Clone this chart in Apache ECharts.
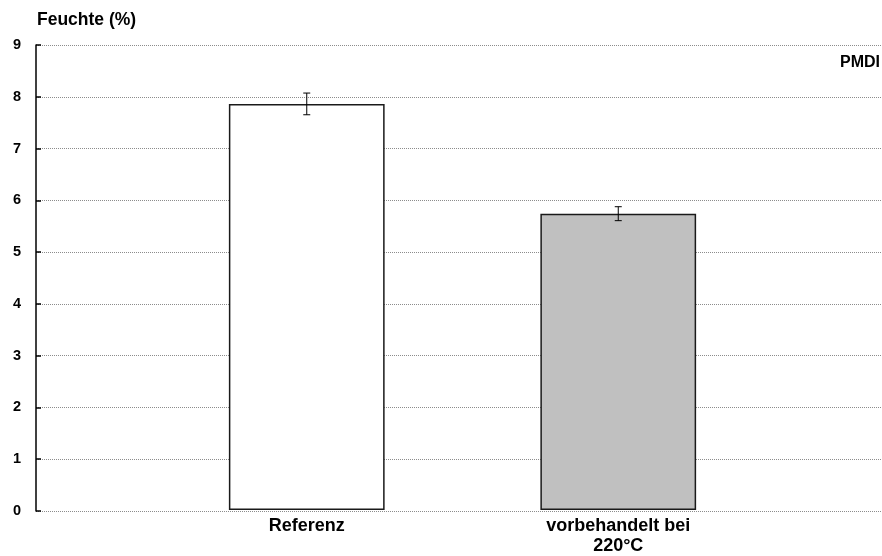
<!DOCTYPE html>
<html>
<head>
<meta charset="utf-8">
<script src="https://cdn.jsdelivr.net/npm/echarts@6/dist/echarts.min.js"></script>
<style>
  html, body { margin: 0; padding: 0; background: #fff; }
  #chart { width: 882px; height: 556px; }
</style>
</head>
<body>
<div id="chart"></div>
<script>
// Feuchte der Proben (PMDI), Mittelwert mit Standardabweichung
var categories = ['Referenz', 'vorbehandelt bei\n220°C'];
var feuchte = [7.86, 5.735];
var abweichung = [0.21, 0.135];
var barColors = ['#ffffff', '#c0c0c0'];
var yTicks = [0, 1, 2, 3, 4, 5, 6, 7, 8, 9];

var FONT = '"Liberation Sans", Arial, sans-serif';

var fehlerDaten = categories.map(function (c, i) {
  return [i, feuchte[i] - abweichung[i], feuchte[i] + abweichung[i]];
});

var chart = echarts.init(document.getElementById('chart'), null, { renderer: 'canvas' });

chart.setOption({
  animation: false,
  backgroundColor: '#ffffff',
  graphic: [
    {
      type: 'text', left: 37, top: 11,
      style: { text: 'Feuchte (%)', font: 'bold 17.5px ' + FONT, fill: '#000' }
    },
    {
      type: 'text', right: 2, top: 55,
      style: { text: 'PMDI', font: 'bold 16px ' + FONT, fill: '#000' }
    }
  ],
  grid: [
    { left: 36, right: 0, top: 45, bottom: 45 },
    { left: 151, width: 623, top: 45, bottom: 45 }
  ],
  xAxis: [
    {
      gridIndex: 0, type: 'value', min: 0, max: 1,
      show: false
    },
    {
      gridIndex: 1, type: 'category', data: categories,
      axisLine: { show: false },
      axisTick: { show: false },
      splitLine: { show: false },
      axisLabel: {
        margin: 6, color: '#000', fontFamily: FONT, fontWeight: 'bold',
        fontSize: 18, lineHeight: 20, interval: 0
      }
    }
  ],
  yAxis: [
    {
      gridIndex: 0, type: 'value', min: yTicks[0], max: yTicks[yTicks.length - 1], interval: 1,
      axisLine: { show: true, lineStyle: { color: '#000', width: 1.5 } },
      axisTick: { show: true, inside: true, length: 5, lineStyle: { color: '#000', width: 1.5 } },
      splitLine: { show: true, lineStyle: { color: '#8c8c8c', type: [1, 1], width: 1 } },
      axisLabel: {
        margin: 15, color: '#000', fontFamily: FONT, fontWeight: 'bold', fontSize: 14.5
      }
    },
    {
      gridIndex: 1, type: 'value', min: yTicks[0], max: yTicks[yTicks.length - 1], interval: 1,
      show: false
    }
  ],
  series: [
    {
      type: 'bar',
      xAxisIndex: 1, yAxisIndex: 1,
      barWidth: '50%',
      data: feuchte.map(function (v, i) {
        return { value: v, itemStyle: { color: barColors[i] } };
      }),
      itemStyle: { borderColor: '#1a1a1a', borderWidth: 1.5 },
      z: 2
    },
    {
      type: 'custom',
      xAxisIndex: 1, yAxisIndex: 1,
      data: fehlerDaten,
      z: 3,
      renderItem: function (params, api) {
        var x = api.value(0);
        var lo = api.coord([x, api.value(1)]);
        var hi = api.coord([x, api.value(2)]);
        var half = 3.5;
        var style = { stroke: '#000', lineWidth: 1 };
        return {
          type: 'group',
          children: [
            { type: 'line', shape: { x1: lo[0], y1: lo[1], x2: hi[0], y2: hi[1] }, style: style },
            { type: 'line', shape: { x1: hi[0] - half, y1: hi[1], x2: hi[0] + half, y2: hi[1] }, style: style },
            { type: 'line', shape: { x1: lo[0] - half, y1: lo[1], x2: lo[0] + half, y2: lo[1] }, style: style }
          ]
        };
      }
    }
  ]
});
</script>
</body>
</html>
